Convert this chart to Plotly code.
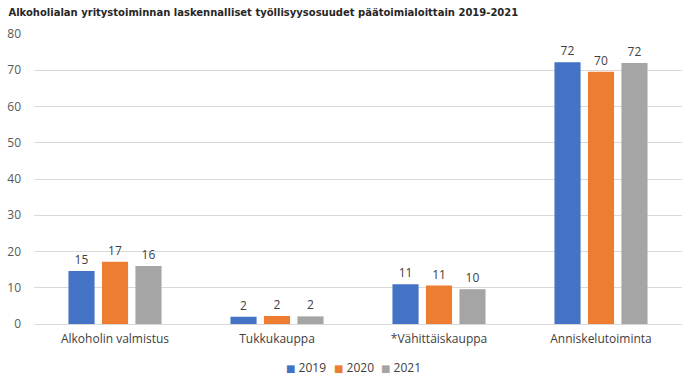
import plotly.graph_objects as go

categories = ["Alkoholin valmistus", "Tukkukauppa", "*Vähittäiskauppa", "Anniskelutoiminta"]
years = ["2019", "2020", "2021"]
values_2019 = [14.6, 2.0, 11.0, 72.2]
values_2020 = [17.2, 2.2, 10.6, 69.6]
values_2021 = [16.0, 2.1, 9.6, 72.0]
colors = ["#4472C4", "#ED7D31", "#A5A5A5"]
y_ticks = [0, 10, 20, 30, 40, 50, 60, 70, 80]

fig = go.Figure()
for yr, vals, col in zip(years, [values_2019, values_2020, values_2021], colors):
    fig.add_trace(go.Bar(
        x=categories, y=vals, name=yr,
        marker=dict(color=col, line=dict(width=0)),
        text=[f"{round(v):d}" for v in vals],
        textposition="outside",
        textfont=dict(size=12, color="#404040", family="Open Sans"),
        cliponaxis=False,
        showlegend=False,
    ))

# compact legend like the original (small square + year)
legend_x = [0.3858, 0.4594, 0.5324]
for yr, col, lx in zip(years, colors, legend_x):
    fig.add_annotation(
        xref="paper", yref="paper", x=lx, y=-0.1517, xanchor="left", yanchor="middle",
        text=f"<span style='color:{col};font-size:10px;font-family:DejaVu Sans'>■</span> {yr}",
        showarrow=False, font=dict(size=12, color="#404040", family="Open Sans"),
    )

fig.update_layout(
    width=700, height=379,
    margin=dict(l=34, r=18, t=34, b=55, autoexpand=False),
    paper_bgcolor="white", plot_bgcolor="white",
    barmode="group", bargap=0.38, bargroupgap=0.22,
    title=dict(text="<b>Alkoholialan yritystoiminnan laskennalliset työllisyysosuudet päätoimialoittain 2019-2021</b>",
               x=0.012, xanchor="left", y=0.968, yanchor="middle",
               font=dict(family="DejaVu Sans", size=10, color="#262626")),
    font=dict(family="Open Sans", color="#595959", size=12),
    yaxis=dict(range=[0, 80], tickvals=y_ticks, showgrid=True, gridcolor="#D9D9D9",
               gridwidth=1, zeroline=False, showline=False, ticks="", automargin=False,
               ticklabelstandoff=12, tickfont=dict(size=12, color="#595959")),
    xaxis=dict(showline=True, linecolor="#D9D9D9", ticks="", automargin=False,
               ticklabelstandoff=4, tickfont=dict(size=12, color="#404040")),
    showlegend=False,
)

fig.write_html("out.html", post_script="document.body.style.margin='0';",
               config={"displayModeBar": False})
